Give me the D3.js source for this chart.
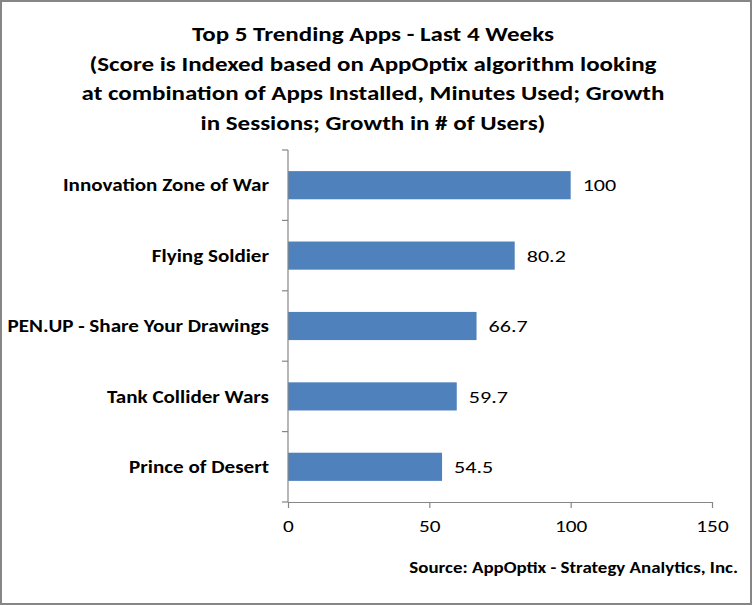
<!DOCTYPE html>
<html><head><meta charset="utf-8">
<script src="https://cdn.jsdelivr.net/npm/d3@7"></script>
<style>
html,body{margin:0;padding:0;background:#fff;}
svg{display:block;}
text{font-family:Carlito, Lato, "Open Sans", sans-serif;}
</style></head>
<body>
<svg id="chart" width="752" height="605"></svg>
<script>
const categories = ["Innovation Zone of War","Flying Soldier","PEN.UP - Share Your Drawings","Tank Collider Wars","Prince of Desert"];
const values = [100, 80.2, 66.7, 59.7, 54.5];
const xTicks = [0, 50, 100, 150];
const titleLines = ["Top 5 Trending Apps - Last 4 Weeks","(Score is Indexed based on AppOptix algorithm looking","at combination  of Apps Installed, Minutes Used; Growth","in Sessions; Growth in # of Users)"];
const sourceText = "Source: AppOptix - Strategy Analytics, Inc.";

(function(){
const svg = d3.select("#chart");
const W = 752, H = 605;
const STRETCH = 1.24;
function stretch(sel, k){
  sel.each(function(){
    const len = this.getComputedTextLength();
    d3.select(this).attr("textLength", len*k).attr("lengthAdjust","spacingAndGlyphs");
  });
}
svg.append("rect").attr("x",1).attr("y",1).attr("width",W-2).attr("height",H-2)
  .attr("fill","#fff").attr("stroke","#868686").attr("stroke-width",2);

const pL = 288, pR = 712, pT = 150, pB = 502;
const x = d3.scaleLinear().domain([0,150]).range([pL,pR]);
const y = d3.scaleBand().domain(categories).range([pT,pB]).paddingInner(0.6).paddingOuter(0.3);
const yb = d3.scaleBand().domain(categories).range([pT,pB]);

// title
const title = svg.append("text").attr("text-anchor","middle").attr("font-weight","bold")
  .attr("font-size",21).attr("fill","#000");
titleLines.forEach((t,i)=>{
  title.append("tspan").attr("x",373).attr("y",41 + i*29.7).text(t);
});
title.selectAll("tspan").each(function(){
  const len = this.getComputedTextLength();
  d3.select(this).attr("textLength", len*1.19).attr("lengthAdjust","spacingAndGlyphs");
});

// bars
svg.selectAll("rect.bar").data(values).enter().append("rect").attr("class","bar")
  .attr("x",x(0)).attr("y",(d,i)=>y(categories[i]))
  .attr("width",d=>x(d)-x(0)).attr("height",y.bandwidth()).attr("fill","#4F81BD");

// value labels
const vals = svg.selectAll("text.val").data(values).enter().append("text").attr("class","val")
  .attr("x",d=>x(d)+12).attr("y",(d,i)=>y(categories[i])+y.bandwidth()/2)
  .attr("dy","0.36em").attr("font-size",17).attr("fill","#000").text(d=>d);
stretch(vals, 1.3);

// y axis
const yAxis = svg.append("g").attr("transform",`translate(${pL},0)`);
yAxis.append("line").attr("x1",0).attr("x2",0).attr("y1",pT).attr("y2",pB).attr("stroke","#868686").attr("stroke-width",1.2);
const yTickPos = categories.map(c=>yb(c)).concat([pB]);
yAxis.selectAll("line.t").data(yTickPos).enter().append("line").attr("class","t")
  .attr("x1",-6).attr("x2",0).attr("y1",d=>d).attr("y2",d=>d).attr("stroke","#868686").attr("stroke-width",1.2);
const cats = svg.selectAll("text.cat").data(categories).enter().append("text").attr("class","cat")
  .attr("x",269).attr("y",c=>yb(c)+yb.bandwidth()/2).attr("dy","0.36em")
  .attr("text-anchor","end").attr("font-weight","bold").attr("font-size",17).attr("fill","#000").text(c=>c);
stretch(cats, STRETCH);

// x axis
const xAxis = svg.append("g").attr("transform",`translate(0,${pB})`)
  .call(d3.axisBottom(x).tickValues(xTicks).tickSize(6).tickSizeOuter(0).tickPadding(12));
xAxis.select(".domain").attr("stroke","#868686").attr("stroke-width",1.2);
xAxis.selectAll(".tick line").attr("stroke","#868686").attr("stroke-width",1.2);
const tt = xAxis.selectAll(".tick text").attr("font-size",17).attr("fill","#000").attr("font-family","Carlito, Lato, 'Open Sans', sans-serif");
stretch(tt, 1.25);

// source
const src = svg.append("text").attr("x",738).attr("y",573).attr("text-anchor","end")
  .attr("font-weight","bold").attr("font-size",15).attr("fill","#000").text(sourceText);
stretch(src, 1.26);
})();
</script>
</body></html>
